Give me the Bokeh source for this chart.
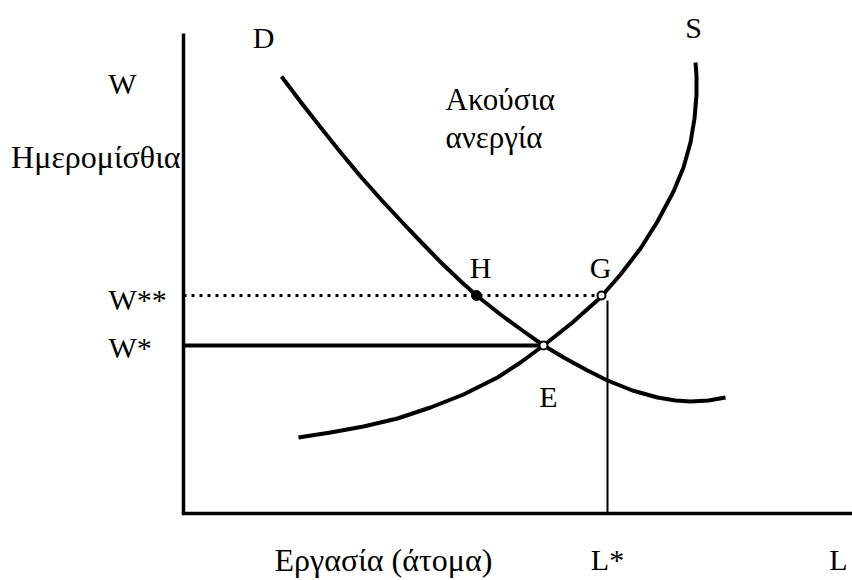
from bokeh.plotting import figure
from bokeh.models import Range1d
from bokeh.core.properties import value
from bokeh.embed import file_html
from bokeh.resources import INLINE

# ---- data (chart units: L along x, W along y) ----
demand_L = [1.96, 2.36, 2.76, 3.16, 3.56, 3.96, 4.36, 4.76, 5.16, 5.56, 5.86,
            6.34, 6.78, 7.20, 7.64, 8.08, 8.48, 8.98, 9.48, 9.84, 10.14, 10.50, 10.84]
demand_W = [8.74, 8.21, 7.70, 7.20, 6.72, 6.27, 5.84, 5.42, 5.01, 4.63, 4.36,
            3.98, 3.66, 3.36, 3.10, 2.86, 2.66, 2.46, 2.32, 2.26, 2.24, 2.26, 2.32]

supply_L = [2.30, 2.94, 3.60, 4.28, 4.94, 5.60, 6.28, 6.74, 7.20, 7.78, 8.34,
            8.74, 9.14, 9.48, 9.80, 10.00, 10.14, 10.22, 10.26, 10.26, 10.24]
supply_W = [1.52, 1.62, 1.74, 1.90, 2.12, 2.38, 2.72, 3.02, 3.36, 3.82, 4.32,
            4.78, 5.30, 5.84, 6.44, 6.92, 7.42, 7.90, 8.38, 8.76, 9.02]

W_star = 3.36        # equilibrium wage
W_2star = 4.36       # wage above equilibrium
E_L = 7.20           # equilibrium employment
H_L = 5.86           # labour demanded at W**
G_L = 8.36           # labour supplied at W**
L_star = 8.48        # L* marker line
L_star_top = 4.26

axis_top = 9.6
axis_right = 13.4

labels = ["W", "Ημερομίσθια", "D", "S", "Ακούσια", "ανεργία", "H", "G", "E",
          "W**", "W*", "Εργασία (άτομα)", "L*", "L"]

FONT = value("Liberation Serif")
FS = "30px"
FS_GR = "32px"
FS_GR2 = "31px"

p = figure(width=852, height=580, output_backend="svg", toolbar_location=None,
           x_range=Range1d(-3.66, 13.38), y_range=Range1d(-1.34, 10.26),
           x_axis_location=None, y_axis_location=None, min_border=0)
p.grid.visible = False
p.outline_line_color = None
p.background_fill_color = "white"

# axes
p.segment(x0=[0, -0.035], y0=[0, 0], x1=[0, axis_right], y1=[axis_top, 0],
          line_color="black", line_width=3.5)

# guide lines
p.segment(x0=[0], y0=[W_2star], x1=[G_L], y1=[W_2star], line_color="black",
          line_width=3, line_dash="3 5")
p.segment(x0=[0], y0=[W_star], x1=[E_L], y1=[W_star], line_color="black", line_width=4)
p.segment(x0=[L_star], y0=[L_star_top], x1=[L_star], y1=[0], line_color="black", line_width=2)

# curves
p.line(demand_L, demand_W, line_color="black", line_width=4, line_join="round")
p.line(supply_L, supply_W, line_color="black", line_width=4, line_join="round")

# points
p.scatter([H_L], [W_2star], size=10, fill_color="black", line_color="black")
p.scatter([G_L, E_L], [W_2star, W_star], size=8, fill_color="white",
          line_color="black", line_width=2)

def txt(x, y, t, align="center", fs=FS):
    p.text(x=[x], y=[y], text=[t], text_font=FONT, text_font_size=fs,
           text_align=align, text_baseline="alphabetic", text_color="black")

txt(-1.22, 8.60, labels[0])
txt(-0.06, 7.14, labels[1], "right", FS_GR)
txt(1.6, 9.52, labels[2])
txt(10.2, 9.72, labels[3])
txt(5.24, 8.28, labels[4], "left", FS_GR2)
txt(5.24, 7.52, labels[5], "left", FS_GR2)
txt(5.94, 4.92, labels[6])
txt(8.34, 4.92, labels[7])
txt(7.3, 2.34, labels[8])
txt(-1.5, 4.28, labels[9], "left")
txt(-1.5, 3.32, labels[10], "left")
txt(1.82, -0.92, labels[11], "left", FS_GR)
txt(8.48, -0.92, labels[12])
txt(13.1, -0.92, labels[13])

open("out.html", "w").write(file_html(p, INLINE))
